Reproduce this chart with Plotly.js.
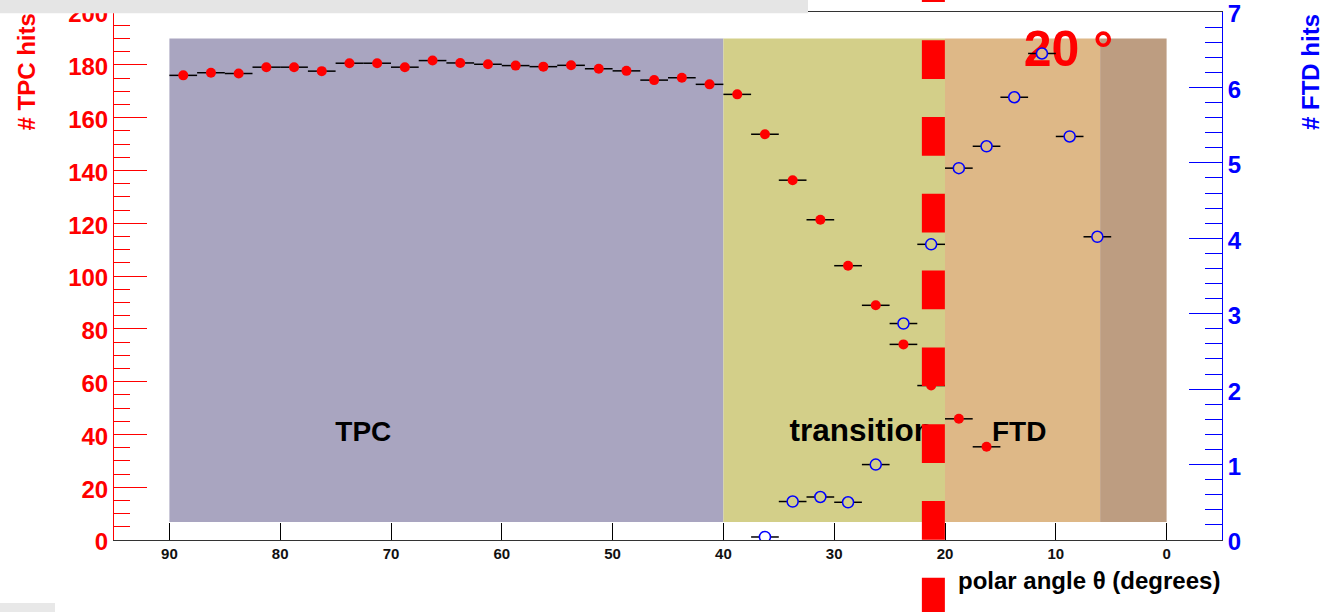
<!DOCTYPE html>
<html><head><meta charset="utf-8">
<script src="https://cdn.plot.ly/plotly-3.0.1.min.js"></script>
<style>html,body{margin:0;padding:0;background:#fff;overflow:hidden;} #chart{width:1324px;height:612px;}</style>
</head><body><div id="chart"></div>
<script>
// ---- data ----
const tpcTheta = [88.75, 86.25, 83.75, 81.25, 78.75, 76.25, 73.75, 71.25, 68.75, 66.25,
                  63.75, 61.25, 58.75, 56.25, 53.75, 51.25, 48.75, 46.25, 43.75, 41.25,
                  38.75, 36.25, 33.75, 31.25, 28.75, 26.25, 23.75, 21.25, 18.75, 16.25];
const tpcHits  = [176.0, 177.0, 176.7, 179.1, 179.1, 177.6, 180.6, 180.6, 179.1, 181.6,
                  180.7, 180.2, 179.7, 179.3, 179.8, 178.5, 177.7, 174.2, 175.1, 172.6,
                  168.8, 153.7, 136.3, 121.3, 103.9, 88.9, 74.1, 58.5, 45.9, 35.3];
const ftdTheta = [36.25, 33.75, 31.25, 28.75, 26.25, 23.75, 21.25, 18.75, 16.25, 13.75, 11.25, 8.75, 6.25];
const ftdHits  = [0.04, 0.51, 0.57, 0.50, 1.00, 2.87, 3.92, 4.93, 5.22, 5.87, 6.45, 5.35, 4.02];
const binHalfWidth = 1.25;

const regionEdges  = [90, 40, 20, 6, 0];
const regionLabels = ['TPC', 'transition', 'FTD'];
const angleLabel   = ['20 °'];
const cutAngle     = 21.05;

// ---- styling ----
const F = 'Liberation Sans, Arial, Helvetica, sans-serif';
const regionColors = ['#A9A5C0', '#D3CF89', '#DEB887', '#BD9D81'];
const boxLow = 6.8, boxHigh = 190;        // in TPC-hit units
const tpcMax = 200, ftdMax = 7;
const eps = 1e-4;

function bgAt(theta, yTpc) {
  if (yTpc < boxLow || yTpc > boxHigh) return '#ffffff';
  for (let i = 0; i < regionColors.length; i++) {
    if (theta <= regionEdges[i] && theta >= regionEdges[i + 1]) return regionColors[i];
  }
  return '#ffffff';
}
const ftdFill = ftdTheta.map((t, i) => bgAt(t, ftdHits[i] * tpcMax / ftdMax));

const labelFont = { family: F, weight: 'bold', color: '#000' };
const traces = [
  { type: 'scatter', mode: 'text', x: [72.5, 13.3], y: [40.3, 40.3],
    text: [regionLabels[0], regionLabels[2]], textposition: 'middle center',
    textfont: Object.assign({ size: 28 }, labelFont),
    hoverinfo: 'skip', showlegend: false, xaxis: 'x', yaxis: 'y' },
  { type: 'scatter', mode: 'text', x: [27.55], y: [40.3],
    text: [regionLabels[1]], textposition: 'middle center',
    textfont: Object.assign({ size: 31.5 }, labelFont),
    hoverinfo: 'skip', showlegend: false, xaxis: 'x', yaxis: 'y' },
  { type: 'scatter', mode: 'text', x: [8.85], y: [184.3], text: angleLabel,
    textposition: 'middle center',
    textfont: { family: F, size: 50, weight: 'bold', color: '#ff0000' },
    hoverinfo: 'skip', showlegend: false, xaxis: 'x', yaxis: 'y' },
  { type: 'scatter', mode: 'markers', name: 'TPC hits', x: tpcTheta, y: tpcHits,
    marker: { symbol: 'circle', size: 10, color: '#ff0000', line: { width: 0 } },
    error_x: { type: 'constant', value: binHalfWidth, color: '#000', thickness: 1.5, width: 0 },
    showlegend: false, xaxis: 'x', yaxis: 'y' },
  { type: 'scatter', mode: 'markers', name: 'FTD hits', x: ftdTheta, y: ftdHits,
    marker: { symbol: 'circle', size: 11, color: ftdFill, line: { color: '#0000ff', width: 1.5 } },
    error_x: { type: 'constant', value: binHalfWidth, color: '#000', thickness: 1.5, width: 0 },
    showlegend: false, xaxis: 'x', yaxis: 'y2' }
];

const shapes = [];
for (let i = 0; i < regionColors.length; i++) {
  shapes.push({ type: 'rect', xref: 'x', yref: 'y', x0: regionEdges[i], x1: regionEdges[i + 1],
    y0: boxLow, y1: boxHigh, fillcolor: regionColors[i], line: { width: 0 }, layer: 'below' });
}
shapes.push({ type: 'line', xref: 'x', yref: 'paper', x0: cutAngle, x1: cutAngle,
  y0: 1.0920, y1: -0.1439, line: { color: '#ff0000', width: 23, dash: '38.7px,38.1px' }, layer: 'above' });
// screenshot artefacts (grey bars)
shapes.push({ type: 'rect', xref: 'paper', yref: 'paper', x0: -114 / 1108, x1: (808 - 114) / 1108,
  y0: (540 - 13.2) / 528, y1: 541 / 528, fillcolor: '#E5E5E5', line: { width: 0 }, layer: 'above' });
shapes.push({ type: 'rect', xref: 'paper', yref: 'paper', x0: -114 / 1108, x1: (55 - 114) / 1108,
  y0: (540 - 613) / 528, y1: (540 - 603) / 528, fillcolor: '#E8E8E8', line: { width: 0 }, layer: 'above' });

const layout = {
  width: 1324, height: 612,
  margin: { l: 114, r: 102, t: 12, b: 72, pad: 0 },
  paper_bgcolor: '#ffffff', plot_bgcolor: '#ffffff',
  showlegend: false,
  xaxis: {
    range: [95, -5], tick0: 0, dtick: 10, ticks: 'inside', ticklen: 17, tickwidth: 1, tickcolor: '#000',
    showline: true, linecolor: '#333', linewidth: 1, mirror: true,
    showgrid: false, zeroline: false,
    tickfont: { family: F, size: 15, weight: 'bold', color: '#111' }
  },
  yaxis: {
    range: [-eps, tpcMax + eps], tick0: 0, dtick: 20, ticks: 'inside', ticklen: 33, tickwidth: 1, tickcolor: '#ff0000',
    minor: { ticks: 'inside', ticklen: 16, dtick: 5, tick0: 0, tickcolor: '#ff0000', tickwidth: 1, showgrid: false },
    showline: true, linecolor: '#ff0000', linewidth: 1,
    showgrid: false, zeroline: false, ticklabeloverflow: 'allow', ticklabelshift: 2,
    tickfont: { family: F, size: 24, weight: 'bold', color: '#ff0000' }
  },
  yaxis2: {
    overlaying: 'y', side: 'right', anchor: 'x',
    range: [-eps, ftdMax + eps], tick0: 0, dtick: 1, ticks: 'inside', ticklen: 33, tickwidth: 1, tickcolor: '#0000ff',
    minor: { ticks: 'inside', ticklen: 17, dtick: 0.2, tick0: 0, tickcolor: '#0000ff', tickwidth: 1, showgrid: false },
    showline: true, linecolor: '#0000ff', linewidth: 1,
    showgrid: false, zeroline: false, ticklabeloverflow: 'allow', ticklabelshift: 2,
    tickfont: { family: F, size: 24, weight: 'bold', color: '#0000ff' }
  },
  shapes: shapes,
  annotations: [
    { text: 'polar angle θ (degrees)', xref: 'paper', yref: 'paper', x: 1, y: (540 - 580) / 528,
      xanchor: 'right', yanchor: 'middle', showarrow: false,
      font: { family: F, size: 24, weight: 'bold', color: '#000' } },
    { text: '# TPC hits', xref: 'paper', yref: 'paper', x: (26 - 114) / 1108, y: (540 - 72.5) / 528,
      xanchor: 'center', yanchor: 'middle', textangle: -90, showarrow: false,
      font: { family: F, size: 24, weight: 'bold', color: '#ff0000' } },
    { text: '# FTD hits', xref: 'paper', yref: 'paper', x: (1310 - 114) / 1108, y: (540 - 72) / 528,
      xanchor: 'center', yanchor: 'middle', textangle: -90, showarrow: false,
      font: { family: F, size: 24, weight: 'bold', color: '#0000ff' } }
  ]
};

Plotly.newPlot('chart', traces, layout, { displayModeBar: false, staticPlot: true });
</script></body></html>
